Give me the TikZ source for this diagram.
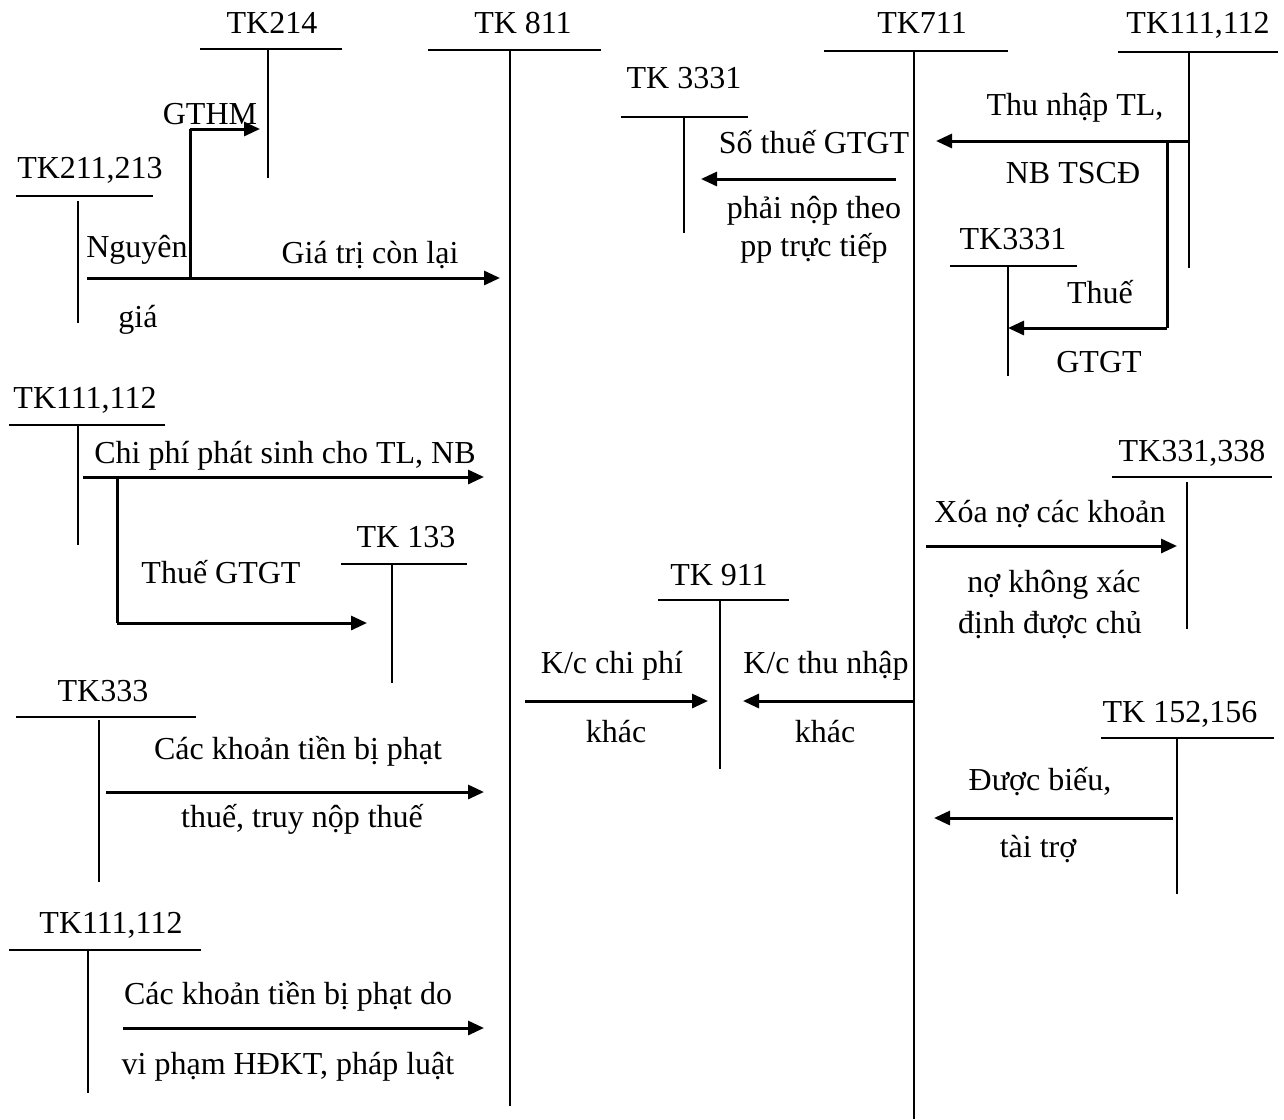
\documentclass[tikz,border=0pt]{standalone}
\usepackage{fontspec}
\setmainfont{Liberation Serif}
\usetikzlibrary{arrows.meta}
\begin{document}
\begin{tikzpicture}[x=1pt,y=-1pt,
  lbl/.style={anchor=base,inner sep=0pt,font=\fontsize{32}{38}\selectfont},
  tline/.style={line width=2pt},
  flow/.style={line width=3pt,-{Triangle[length=16pt,width=14pt]}},
  seg/.style={line width=3pt}]
\useasboundingbox[fill=white] (0,0) rectangle (1284,1119);

% ---------- T accounts ----------
% TK214
\node[lbl] (n214) at (272,33) {TK214};
\coordinate (h214a) at (200,49); \coordinate (h214b) at (342,49);
\coordinate (v214a) at (268,49); \coordinate (v214b) at (268,178);
\draw[tline] (h214a) -- (h214b); \draw[tline] (v214a) -- (v214b);
% TK 811
\node[lbl] (n811) at (523,33) {TK 811};
\coordinate (h811a) at (428,50); \coordinate (h811b) at (601,50);
\coordinate (v811a) at (510,50); \coordinate (v811b) at (510,1106);
\draw[tline] (h811a) -- (h811b); \draw[tline] (v811a) -- (v811b);
% TK711
\node[lbl] (n711) at (922,33) {TK711};
\coordinate (h711a) at (824,51); \coordinate (h711b) at (1008,51);
\coordinate (v711a) at (914,51); \coordinate (v711b) at (914,1119);
\draw[tline] (h711a) -- (h711b); \draw[tline] (v711a) -- (v711b);
% TK111,112 top right
\node[lbl] (n111a) at (1198,33) {TK111,112};
\coordinate (h111aa) at (1118,52); \coordinate (h111ab) at (1278,52);
\coordinate (v111aa) at (1189,52); \coordinate (v111ab) at (1189,268);
\draw[tline] (h111aa) -- (h111ab); \draw[tline] (v111aa) -- (v111ab);
% TK 3331 middle
\node[lbl] (n3331a) at (684,88) {TK 3331};
\coordinate (h3331aa) at (621,117); \coordinate (h3331ab) at (748,117);
\coordinate (v3331aa) at (684,117); \coordinate (v3331ab) at (684,233);
\draw[tline] (h3331aa) -- (h3331ab); \draw[tline] (v3331aa) -- (v3331ab);
% TK211,213
\node[lbl] (n211) at (90,178) {TK211,213};
\coordinate (h211a) at (16,196); \coordinate (h211b) at (153,196);
\coordinate (v211a) at (78,201); \coordinate (v211b) at (78,323);
\draw[tline] (h211a) -- (h211b); \draw[tline] (v211a) -- (v211b);
% TK3331 right
\node[lbl] (n3331b) at (1013,249) {TK3331};
\coordinate (h3331ba) at (950,266); \coordinate (h3331bb) at (1077,266);
\coordinate (v3331ba) at (1008,266); \coordinate (v3331bb) at (1008,376);
\draw[tline] (h3331ba) -- (h3331bb); \draw[tline] (v3331ba) -- (v3331bb);
% TK111,112 middle left
\node[lbl] (n111b) at (85,408) {TK111,112};
\coordinate (h111ba) at (9,425); \coordinate (h111bb) at (165,425);
\coordinate (v111ba) at (78,425); \coordinate (v111bb) at (78,545);
\draw[tline] (h111ba) -- (h111bb); \draw[tline] (v111ba) -- (v111bb);
% TK 133
\node[lbl] (n133) at (406,547) {TK 133};
\coordinate (h133a) at (341,564); \coordinate (h133b) at (467,564);
\coordinate (v133a) at (392,564); \coordinate (v133b) at (392,683);
\draw[tline] (h133a) -- (h133b); \draw[tline] (v133a) -- (v133b);
% TK331,338
\node[lbl] (n331) at (1192,461) {TK331,338};
\coordinate (h331a) at (1112,477); \coordinate (h331b) at (1272,477);
\coordinate (v331a) at (1187,482); \coordinate (v331b) at (1187,629);
\draw[tline] (h331a) -- (h331b); \draw[tline] (v331a) -- (v331b);
% TK 911
\node[lbl] (n911) at (719,585) {TK 911};
\coordinate (h911a) at (658,600); \coordinate (h911b) at (789,600);
\coordinate (v911a) at (720,600); \coordinate (v911b) at (720,769);
\draw[tline] (h911a) -- (h911b); \draw[tline] (v911a) -- (v911b);
% TK333
\node[lbl] (n333) at (103,701) {TK333};
\coordinate (h333a) at (16,717); \coordinate (h333b) at (196,717);
\coordinate (v333a) at (99,720); \coordinate (v333b) at (99,882);
\draw[tline] (h333a) -- (h333b); \draw[tline] (v333a) -- (v333b);
% TK 152,156
\node[lbl] (n152) at (1180,722) {TK 152,156};
\coordinate (h152a) at (1101,738); \coordinate (h152b) at (1274,738);
\coordinate (v152a) at (1177,738); \coordinate (v152b) at (1177,894);
\draw[tline] (h152a) -- (h152b); \draw[tline] (v152a) -- (v152b);
% TK111,112 bottom left
\node[lbl] (n111c) at (111,933) {TK111,112};
\coordinate (h111ca) at (9,950); \coordinate (h111cb) at (201,950);
\coordinate (v111ca) at (88,950); \coordinate (v111cb) at (88,1093);
\draw[tline] (h111ca) -- (h111cb); \draw[tline] (v111ca) -- (v111cb);

% ---------- Flows ----------
% Nguyen gia / Gia tri con lai / GTHM
\coordinate (a1s) at (87,278); \coordinate (a1e) at (500,278);
\coordinate (a1k) at (190,278); \coordinate (a1u) at (190,129); \coordinate (a1t) at (260,129);
\draw[flow] (a1s) -- (a1e);
\draw[seg] (a1k) -- (a1u);
\draw[flow] (a1u) -- (a1t);
\node[lbl] (t1a) at (137,257) {Nguyên};
\node[lbl] (t1b) at (138,327) {giá};
\node[lbl] (t1c) at (370,263) {Giá trị còn lại};
\node[lbl] (t1d) at (210,124) {GTHM};

% Thu nhap TL, NB TSCD
\coordinate (a2s) at (1189,141); \coordinate (a2e) at (936,141);
\draw[flow] (a2s) -- (a2e);
\node[lbl] (t2a) at (1075,115) {Thu nhập TL,};
\node[lbl] (t2b) at (1073,183) {NB TSCĐ};
% Thue GTGT branch right
\coordinate (a3k) at (1167,141); \coordinate (a3c) at (1167,328); \coordinate (a3e) at (1008,328);
\draw[seg] (a3k) -- (a3c);
\draw[flow] (a3c) -- (a3e);
\node[lbl] (t3a) at (1100,303) {Thuế};
\node[lbl] (t3b) at (1099,372) {GTGT};

% So thue GTGT phai nop
\coordinate (a4s) at (896,179); \coordinate (a4e) at (701,179);
\draw[flow] (a4s) -- (a4e);
\node[lbl] (t4a) at (814,153) {Số thuế GTGT};
\node[lbl] (t4b) at (814,218) {phải nộp theo};
\node[lbl] (t4c) at (814,256) {pp trực tiếp};

% Chi phi phat sinh
\coordinate (a5s) at (83,477); \coordinate (a5e) at (484,477);
\draw[flow] (a5s) -- (a5e);
\node[lbl] (t5a) at (285,463) {Chi phí phát sinh cho TL, NB};
% Thue GTGT left branch
\coordinate (a6k) at (117,477); \coordinate (a6c) at (117,623); \coordinate (a6e) at (367,623);
\draw[seg] (a6k) -- (a6c);
\draw[flow] (a6c) -- (a6e);
\node[lbl] (t6a) at (221,583) {Thuế GTGT};

% Xoa no
\coordinate (a7s) at (926,546); \coordinate (a7e) at (1177,546);
\draw[flow] (a7s) -- (a7e);
\node[lbl] (t7a) at (1050,522) {Xóa nợ các khoản};
\node[lbl] (t7b) at (1054,592) {nợ không xác};
\node[lbl] (t7c) at (1050,633) {định được chủ};

% K/c chi phi khac
\coordinate (a8s) at (525,701); \coordinate (a8e) at (708,701);
\draw[flow] (a8s) -- (a8e);
\node[lbl] (t8a) at (612,673) {K/c chi phí};
\node[lbl] (t8b) at (616,742) {khác};
% K/c thu nhap khac
\coordinate (a9s) at (914,701); \coordinate (a9e) at (743,701);
\draw[flow] (a9s) -- (a9e);
\node[lbl] (t9a) at (826,673) {K/c thu nhập};
\node[lbl] (t9b) at (825,742) {khác};

% Cac khoan tien bi phat thue
\coordinate (a10s) at (106,792); \coordinate (a10e) at (484,792);
\draw[flow] (a10s) -- (a10e);
\node[lbl] (t10a) at (298,759) {Các khoản tiền bị phạt};
\node[lbl] (t10b) at (302,827) {thuế, truy nộp thuế};

% Duoc bieu, tai tro
\coordinate (a11s) at (1173,818); \coordinate (a11e) at (934,818);
\draw[flow] (a11s) -- (a11e);
\node[lbl] (t11a) at (1040,790) {Được biếu,};
\node[lbl] (t11b) at (1038,857) {tài trợ};

% Cac khoan tien bi phat do vi pham
\coordinate (a12s) at (123,1028); \coordinate (a12e) at (484,1028);
\draw[flow] (a12s) -- (a12e);
\node[lbl] (t12a) at (288,1004) {Các khoản tiền bị phạt do};
\node[lbl] (t12b) at (288,1074) {vi phạm HĐKT, pháp luật};
\end{tikzpicture}
\end{document}
